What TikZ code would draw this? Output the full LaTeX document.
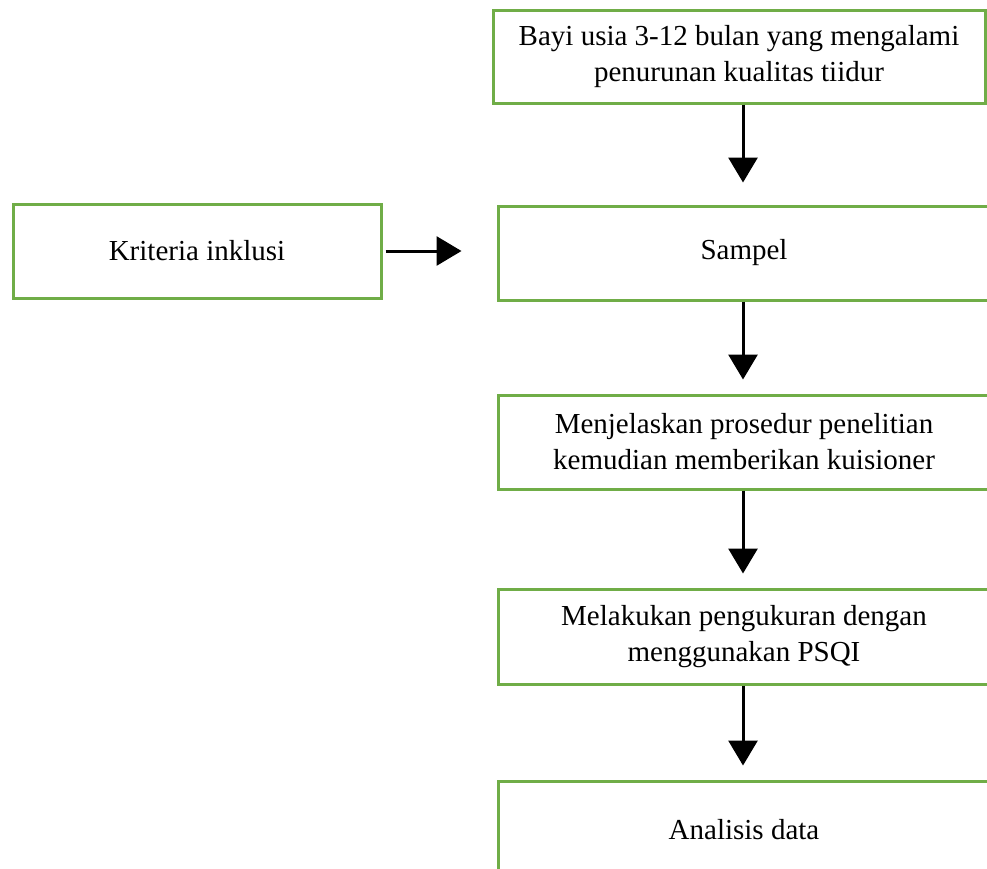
\documentclass[tikz,border=0pt]{standalone}
\usepackage{fontspec}
\setmainfont{Liberation Serif}
\usetikzlibrary{arrows.meta,positioning}

\begin{document}
\begin{tikzpicture}[x=1pt,y=-1pt]
    % Colours of the flow chart
    \definecolor{boxgreen}{RGB}{112,173,71}

    \tikzset{
        stepbox/.style={draw=boxgreen, line width=3pt, fill=white, rectangle,
            minimum width=492pt, inner sep=0pt, align=center,
            font=\fontsize{29}{36}\selectfont},
        flow/.style={line width=3pt, -{Triangle[length=25pt,width=29pt]}}
    }

    \useasboundingbox (0,0) rectangle (987,868);

    % Main column
    \node[stepbox, minimum height=93pt] (bayi) at (739,56.5)
        {Bayi usia 3-12 bulan yang mengalami\\penurunan kualitas tiidur};
    \node[stepbox, minimum height=94pt] (sampel) at (744,253) {Sampel};
    \node[stepbox, minimum height=94pt] (prosedur) at (744,442)
        {Menjelaskan prosedur penelitian\\kemudian memberikan kuisioner};
    \node[stepbox, minimum height=95pt] (ukur) at (744,636.5)
        {Melakukan pengukuran dengan\\menggunakan PSQI};
    \node[stepbox, minimum height=98pt] (analisis) at (744,830) {Analisis data};

    % Side box
    \node[stepbox, minimum width=368pt, minimum height=94pt] (kriteria) at (197,251)
        {Kriteria inklusi};

    % Arrows
    \draw[flow, shorten >=22pt] (bayi.south -| 743,0) -- (sampel.north -| 743,0);
    \draw[flow, shorten >=14pt] (sampel.south -| 743,0) -- (prosedur.north -| 743,0);
    \draw[flow, shorten >=14pt] (prosedur.south -| 743,0) -- (ukur.north -| 743,0);
    \draw[flow, shorten >=14pt] (ukur.south -| 743,0) -- (analisis.north -| 743,0);
    \draw[flow, shorten <=3pt, shorten >=35pt] (kriteria.east) -- (kriteria.east -| sampel.west);
\end{tikzpicture}
\end{document}
